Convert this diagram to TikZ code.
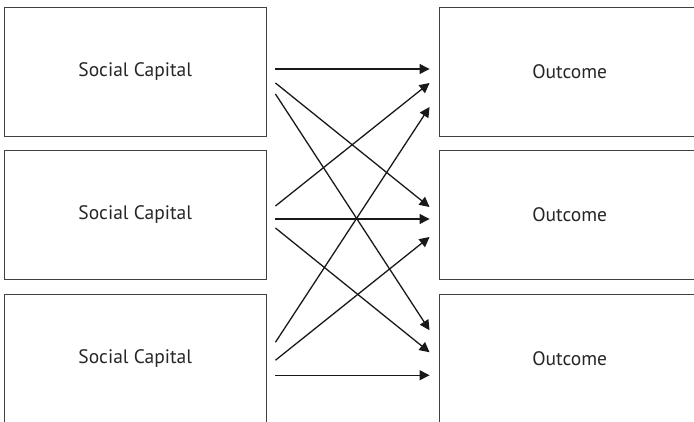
\documentclass[tikz,border=0pt]{standalone}
\usepackage{fontspec}
\setsansfont{PT Sans}
\usetikzlibrary{arrows.meta}
\tikzset{
  capbox/.style = {draw=black!75, line width=0.9pt, inner sep=0pt,
    minimum width=261.5pt, minimum height=128.5pt,
    font=\sffamily\fontsize{19.5}{23}\selectfont, text=black!85},% case gauche / droite
  link/.style = {line width=1.3pt, draw=black!90,
    -{Triangle[length=10pt, width=10pt]}}% fleche
}

\begin{document}
\begin{tikzpicture}[x=1pt, y=1pt]
  \clip (0,0) rectangle (694,421);
  % colonne gauche
  \node [capbox] (sc1) at (135.25, 349.25) {Social Capital};
  \node [capbox] (sc2) at (135.25, 206) {Social Capital};
  \node [capbox] (sc3) at (135.25, 62.75) {Social Capital};
  % colonne droite
  \node [capbox] (oc1) at (569.75, 349.25) {Outcome};
  \node [capbox] (oc2) at (569.75, 206) {Outcome};
  \node [capbox] (oc3) at (569.75, 62.75) {Outcome};
  % fleches
  \foreach \from/\fy/\to/\ty in {1/2.75/1/2.75, 1/-11.25/2/8, 1/-22.25/3/28,
      2/9/1/-11.25, 2/-4/2/-4, 2/-13/3/6,
      3/16/1/-35.25, 3/-2/2/-22, 3/-17/3/-17}
    \draw [link] ([xshift=9pt, yshift=\fy pt]sc\from.east)
      -- ([xshift=-9pt, yshift=\ty pt]oc\to.west);
\end{tikzpicture}
\end{document}
